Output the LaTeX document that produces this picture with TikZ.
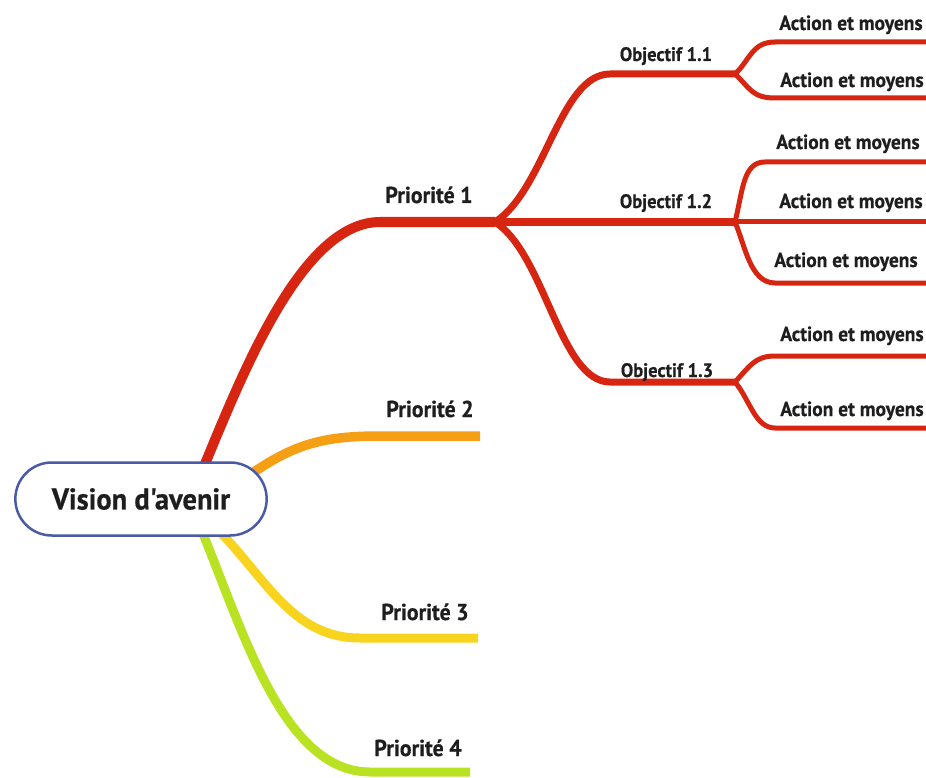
\documentclass[tikz,border=0pt]{standalone}
\usepackage{fontspec}
\setmainfont{PT Sans}
\newfontfamily\condfont[FakeStretch=0.95,FakeBold=0.5]{PT Sans}
\usetikzlibrary{shapes.misc,backgrounds}
\definecolor{cred}{RGB}{214,38,18}
\definecolor{corange}{RGB}{245,160,20}
\definecolor{cyellow}{RGB}{248,212,30}
\definecolor{cgreen}{RGB}{185,226,35}
\definecolor{cborder}{RGB}{75,90,165}
\definecolor{ctext}{RGB}{30,30,30}
\tikzset{
  vis/.style={rounded rectangle, draw=cborder, line width=2.5pt, fill=white,
    minimum width=258pt, minimum height=73pt, text=ctext,
    font=\condfont\bfseries\fontsize{30}{30}\selectfont},
  lab/.style={anchor=base, text=ctext, inner sep=0pt},
  plab/.style={lab, font=\condfont\bfseries\fontsize{23}{23}\selectfont},
  olab/.style={lab, font=\condfont\bfseries\fontsize{19.5}{19.5}\selectfont},
  alab/.style={lab, font=\condfont\bfseries\fontsize{20.5}{20.5}\selectfont},
  trunk/.style={line width=10pt, line cap=butt},
  objline/.style={cred, line width=7pt},
  actline/.style={cred, line width=5pt}
}
\begin{document}
\begin{tikzpicture}[x=1pt,y=-1pt]
\useasboundingbox (0,0) rectangle (926,778);
\clip (0,0) rectangle (926,778);
\node[vis] (vision) at (141,499) {Vision d'avenir};
% priorities
\node[plab] (p1) at (429,203) {Priorité 1};
\node[plab] (p2) at (430,417) {Priorité 2};
\node[plab] (p3) at (425,620) {Priorité 3};
\node[plab] (p4) at (418,756) {Priorité 4};
% objectives
\node[olab] (o11) at (666,61) {Objectif 1.1};
\node[olab] (o12) at (666,208) {Objectif 1.2};
\node[olab] (o13) at (667,377) {Objectif 1.3};
% actions
\node[alab] (a1) at (851,30) {Action et moyens};
\node[alab] (a2) at (852,87) {Action et moyens};
\node[alab] (a3) at (848,149) {Action et moyens};
\node[alab] (a4) at (851,208) {Action et moyens};
\node[alab] (a5) at (846,267) {Action et moyens};
\node[alab] (a6) at (852,341) {Action et moyens};
\node[alab] (a7) at (852,416) {Action et moyens};
% junction coordinates
\coordinate (sr) at (200,476);
\coordinate (so) at (240,482);
\coordinate (sy) at (212,524);
\coordinate (sg) at (198,522);
\coordinate (j1) at (495,222);
\coordinate (j11) at (735,74);
\coordinate (j12) at (735,222);
\coordinate (j13) at (735,382);
\begin{pgfonlayer}{background}
% priorities
\draw[trunk, cred] (sr) .. controls (240,380) and (300,222) .. (380,222) -- (j1);
\draw[trunk, corange, line width=9.5pt] (so) .. controls (290,445) and (320,436) .. (380,436) -- (480,436) coordinate (e2);
\draw[trunk, cyellow, line width=9pt] (sy) .. controls (265,575) and (290,638) .. (360,638) -- (478,638) coordinate (e3);
\draw[trunk, cgreen, line width=9pt] (sg) .. controls (240,620) and (280,772) .. (370,772) -- (470,772) coordinate (e4);
% objectives
\draw[objline] (j1) .. controls (545,190) and (560,74) .. (610,74) -- (j11);
\draw[objline] (j1) -- (j12);
\draw[objline] (j1) .. controls (545,254) and (560,382) .. (610,382) -- (j13);
% actions
\draw[actline] (j11) .. controls (750,60) and (752,42) .. (775,42) -- (930,42);
\draw[actline] (j11) .. controls (750,88) and (752,98) .. (775,98) -- (930,98);
\draw[actline] (j12) .. controls (743,190) and (743,162) .. (765,162) -- (930,162);
\draw[actline] (j12) -- (930,222);
\draw[actline] (j12) .. controls (745,245) and (750,283) .. (775,283) -- (930,283);
\draw[actline] (j13) .. controls (750,366) and (755,356) .. (775,356) -- (930,356);
\draw[actline] (j13) .. controls (750,400) and (755,428) .. (775,428) -- (930,428);
\end{pgfonlayer}
\end{tikzpicture}
\end{document}
